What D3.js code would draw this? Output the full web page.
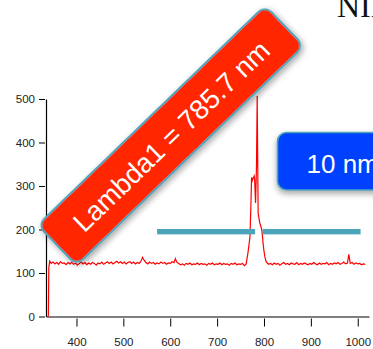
<!DOCTYPE html>
<html>
<head>
<meta charset="utf-8">
<script src="https://cdn.jsdelivr.net/npm/d3@7/dist/d3.min.js"></script>
<style>
  html, body { margin: 0; padding: 0; background: #fff; overflow: hidden; }
  svg { display: block; }
</style>
</head>
<body>
<script>
// ---- data ----
const xTicks = [400, 500, 600, 700, 800, 900, 1000];
const yTicks = [0, 100, 200, 300, 400, 500];
const labelText = "Lambda1 = 785.7 nm";
const boxText = "10 nm";
const titleText = "NIR";
// teal bar segments (wavelength range) and its level
const barSegments = [[572, 781], [797, 1006]];
const barLevel = 195;
// spectrum: wavelength (nm)
const wavelength = [
  340, 341, 343, 346, 350, 354, 358, 362, 366, 370, 374, 378, 382, 386, 390, 394, 398,
  402, 406, 410, 414, 418, 422, 426, 430, 434, 438, 442, 446, 450, 454, 458, 462, 466,
  470, 474, 478, 482, 486, 490, 494, 498, 502, 506, 510, 514, 518, 522, 526, 530, 534,
  538, 541, 544, 548, 552, 556, 560, 564, 568, 572, 576, 580, 584, 588, 592, 596, 600,
  604, 608, 611, 614, 618, 622, 626, 630, 634, 638, 642, 646, 650, 654, 658, 662, 666,
  670, 674, 678, 682, 686, 690, 694, 698, 702, 706, 710, 714, 718, 722, 726, 730, 734,
  738, 742, 746, 750, 754, 758, 762, 766, 770, 772, 773.5, 775, 777, 779, 780, 782, 784,
  785.5, 787.5, 789, 791, 793, 795, 797, 798, 800, 802, 804, 806, 810, 814, 818, 822,
  826, 830, 834, 838, 842, 846, 850, 854, 858, 862, 866, 870, 874, 878, 882, 886, 890,
  894, 898, 902, 906, 910, 914, 918, 922, 926, 930, 934, 938, 942, 946, 950, 954, 958,
  962, 966, 970, 974, 978, 981, 984, 988, 992, 996, 1000, 1004, 1008, 1012, 1016, 1020
];
// spectrum: intensity (counts)
const intensity = [
  0, 113, 127, 122, 125, 121, 124, 120, 126, 122, 123, 119, 124, 121, 125, 120, 123,
  118, 122, 125, 121, 124, 119, 123, 120, 124, 122, 118, 123, 121, 125, 120, 123, 126,
  122, 125, 121, 124, 127, 123, 126, 122, 125, 121, 124, 126, 122, 125, 121, 124, 122,
  128, 136, 130, 124, 121, 125, 122, 124, 120, 123, 121, 125, 122, 124, 120, 123, 122,
  126, 124, 133, 125, 122, 119, 121, 118, 122, 120, 123, 119, 121, 120, 123, 119, 122,
  120, 121, 118, 122, 120, 123, 119, 121, 120, 123, 119, 122, 120, 121, 118, 122, 120,
  123, 119, 121, 120, 122, 117, 121, 148, 182, 252, 320, 312, 318, 323, 316, 261, 346,
  507, 238, 228, 215, 208, 201, 183, 168, 150, 137, 128, 124, 120, 122, 119, 123,
  120, 122, 118, 121, 124, 120, 122, 119, 123, 121, 120, 124, 119, 122, 120, 123, 121,
  119, 122, 120, 124, 121, 119, 123, 120, 122, 121, 124, 119, 122, 120, 123, 121, 124,
  120, 122, 125, 121, 123, 143, 122, 124, 120, 123, 121, 122, 119, 121, 120
];

// ---- layout ----
const W = 373, H = 349;
const svg = d3.select("body").append("svg")
  .attr("width", W).attr("height", H)
  .style("font-family", "'Liberation Sans', Arial, sans-serif");

const defs = svg.append("defs");
const f = defs.append("filter").attr("id", "shadow")
  .attr("x", "-20%").attr("y", "-20%").attr("width", "140%").attr("height", "160%");
f.append("feDropShadow").attr("dx", 0).attr("dy", 3).attr("stdDeviation", 3)
  .attr("flood-color", "#000").attr("flood-opacity", 0.35);

const x = d3.scaleLinear().domain([335, 1024]).range([46, 369]);
const y = d3.scaleLinear().domain([0, 500]).range([316.5, 99]);

// axes
const gx = svg.append("g").attr("transform", `translate(0,${y(0)})`)
  .call(d3.axisBottom(x).tickValues(xTicks).tickFormat(d3.format("d"))
    .tickSize(8).tickSizeOuter(0).tickPadding(4));
gx.selectAll(".tick line").attr("y1", 2).attr("y2", 10);
gx.selectAll(".tick text").attr("y", 21.5);

const gy = svg.append("g").attr("transform", `translate(${x(335)},0)`)
  .call(d3.axisLeft(y).tickValues(yTicks).tickFormat(d3.format("d"))
    .tickSize(7).tickSizeOuter(0).tickPadding(4));
gy.selectAll(".tick line").attr("x1", -1).attr("x2", -7);
gy.selectAll(".tick text").attr("x", -11);

svg.selectAll(".domain").attr("stroke", "#000").attr("stroke-width", 1.2);
svg.selectAll(".tick line").attr("stroke", "#000");
svg.selectAll(".tick text").attr("fill", "#222").attr("font-size", 11.5)
  .attr("font-family", "'Liberation Sans', Arial, sans-serif");

// spectrum
const pts = wavelength.map((w, i) => [w, intensity[i]]);
svg.append("path")
  .datum(pts)
  .attr("fill", "none")
  .attr("stroke", "#ff0000")
  .attr("stroke-width", 1.2)
  .attr("d", d3.line().x(d => x(d[0])).y(d => y(d[1])));

// teal bar
svg.selectAll("rect.bar").data(barSegments).enter().append("rect")
  .attr("class", "bar")
  .attr("x", d => x(d[0]))
  .attr("width", d => x(d[1]) - x(d[0]))
  .attr("y", y(barLevel) - 2.7)
  .attr("height", 5.4)
  .attr("fill", "#4ba4b9");

// blue box
const bx = svg.append("g");
bx.append("rect")
  .attr("x", 277.5).attr("y", 132.5).attr("width", 120).attr("height", 57.5)
  .attr("rx", 9).attr("fill", "#0040ff")
  .attr("stroke", "#4ba4b9").attr("stroke-width", 1.6)
  .attr("filter", "url(#shadow)");
bx.append("text").attr("x", 306.5).attr("y", 173.3)
  .attr("fill", "#fff").attr("font-size", 26).text(boxText);

// red rotated label
const lg = svg.append("g").attr("transform", "translate(170.8,135.5) rotate(-44)");
lg.append("rect")
  .attr("x", -158).attr("y", -28).attr("width", 316).attr("height", 56)
  .attr("rx", 9).attr("fill", "#ff2600")
  .attr("stroke", "#4ba4b9").attr("stroke-width", 2)
  .attr("filter", "url(#shadow)");
lg.append("text").attr("x", 0).attr("y", 1)
  .attr("text-anchor", "middle").attr("dominant-baseline", "central")
  .attr("fill", "#fff").attr("font-size", 27.5).text(labelText);

// top-right title fragment
svg.append("text").attr("x", 337).attr("y", 17)
  .attr("font-family", "'Liberation Serif', 'Times New Roman', serif")
  .attr("font-size", 32).attr("fill", "#111").text(titleText);
</script>
</body>
</html>
